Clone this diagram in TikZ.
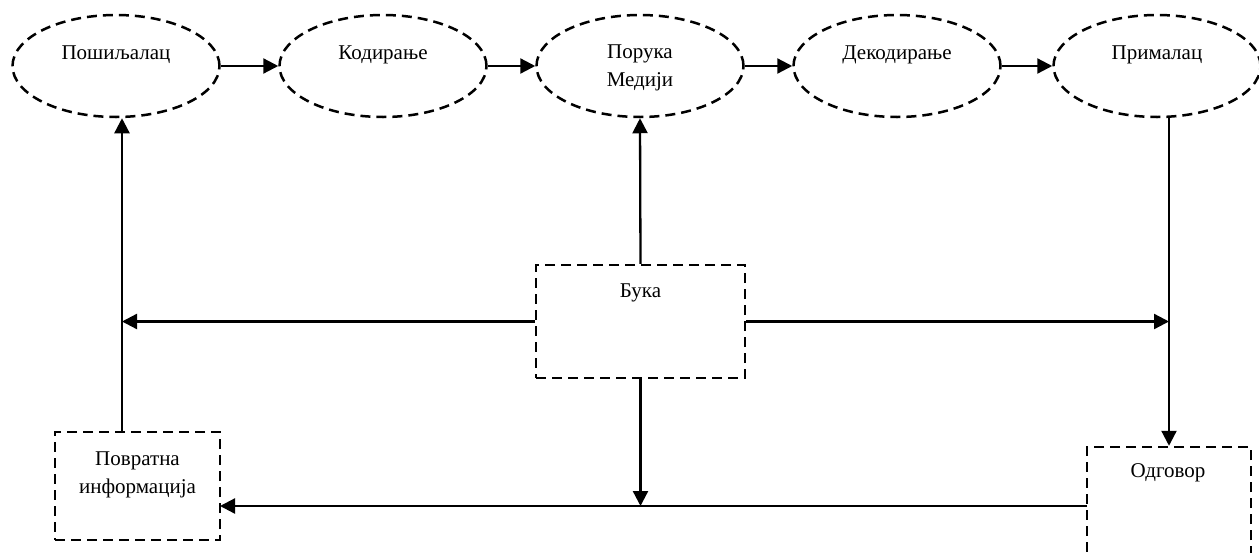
\documentclass[tikz,border=0pt]{standalone}
\usepackage{fontspec}
\setmainfont{Liberation Serif}
\usetikzlibrary{shapes.geometric,arrows.meta}
\begin{document}
\begin{tikzpicture}[x=1pt,y=-1pt,
  txt/.style={font=\fontsize{21}{28}\selectfont, anchor=base, inner sep=0pt, align=center},
  stage/.style={ellipse, draw, line width=2.5pt, dash pattern=on 10pt off 6pt,
    minimum width=207pt, minimum height=102pt, inner sep=0pt},
  boxnode/.style={rectangle, draw, line width=2.5pt, dash pattern=on 10pt off 6pt, inner sep=0pt},
  arr/.style={line width=2.3pt, -{Triangle[length=15pt,width=15pt]}}]
\clip (0,0) rectangle (1259,552);

% top row of stages
\node[stage] (snd) at (116,66) {};
\node[stage] (enc) at (383,66) {};
\node[stage] (msg) at (640,66) {};
\node[stage] (dec) at (897,66) {};
\node[stage] (rcv) at (1157,66) {};
\node[txt] (sndt) at (116,59) {Пошиљалац};
\node[txt] (enct) at (383,59) {Кодирање};
\node[txt] (msgt) at (640,86) {Порука\\Медији};
\node[txt] (dect) at (897,59) {Декодирање};
\node[txt] (rcvt) at (1157,59) {Прималац};

% boxes
\node[boxnode, minimum width=209pt, minimum height=113pt] (noise) at (640.5,321.5) {};
\node[txt] (noiset) at (640.5,297) {Бука};
\node[boxnode, minimum width=165pt, minimum height=108pt] (fb) at (137.5,486) {};
\node[txt] (fbt) at (137.5,493) {Повратна\\информација};
\node[boxnode, minimum width=164pt, minimum height=153pt] (resp) at (1169,523.5) {};
\node[txt] (respt) at (1168,477) {Одговор};

% helper points on the feedback path
\coordinate (fbup) at (122,432);
\coordinate (respout) at (1087,506);
\coordinate (fbin) at (220,506);

% flow along the top row
\draw[arr] (snd.east) -- (enc.west);
\draw[arr] (enc.east) -- (msg.west);
\draw[arr] (msg.east) -- (dec.west);
\draw[arr] (dec.east) -- (rcv.west);

% noise influences
\draw[arr] (noise.north) -- (msg.south);
\draw[arr] (noise.west) -- (noise.west -| fbup);
\draw[arr] (noise.east) -- (noise.east -| resp.north);
\draw[arr] (noise.south) -- (noise.south |- respout);

% receiver to response, response back to sender
\draw[arr] (resp.north |- rcv.south) -- (resp.north);
\draw[arr] (respout) -- (fbin);
\draw[arr] (fbup) -- (fbup |- snd.south);
\end{tikzpicture}
\end{document}
